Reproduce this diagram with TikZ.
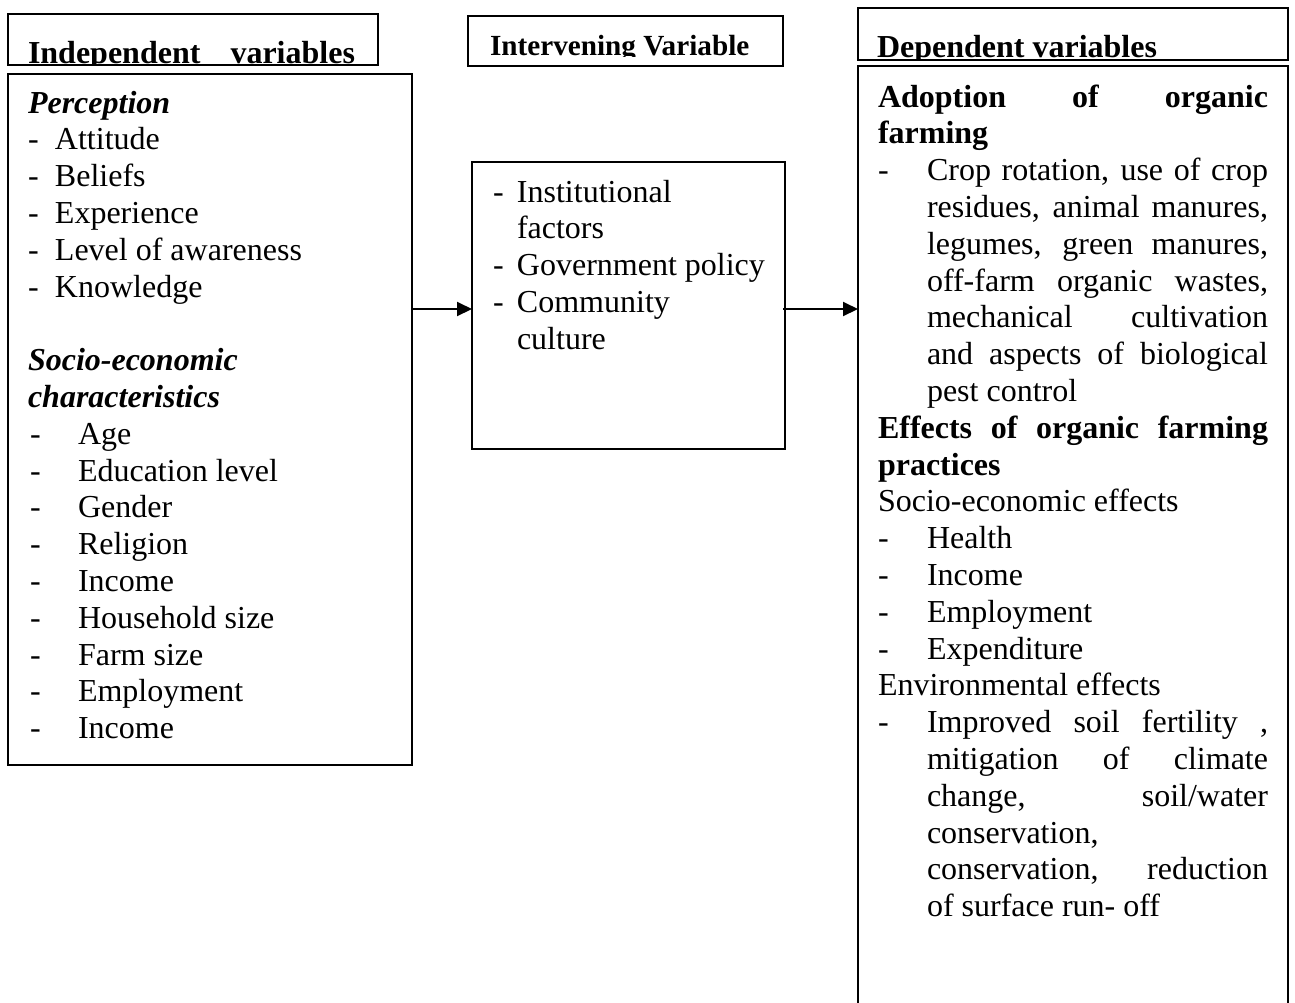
\documentclass[tikz,border=0pt]{standalone}
\usepackage{fontspec}
\setmainfont{Liberation Serif}
\usetikzlibrary{arrows.meta}
\tikzset{
  box/.style={draw, line width=1pt, rectangle, inner sep=0pt, outer sep=0pt, anchor=north west},
  txt/.style={anchor=base west, inner sep=0pt, outer sep=0pt},
  arr/.style={line width=1pt, -{Triangle[length=7.5pt,width=7pt]}}
}
\newcommand{\bodyfont}{\fontsize{16pt}{18.4pt}\selectfont}
\begin{document}
\begin{tikzpicture}[x=0.5pt,y=-0.5pt]
\useasboundingbox (0,0) rectangle (1295,1002);
% header boxes
\node[box, minimum width=185pt, minimum height=25.5pt] (h1) at (8,14) {};
\node[box, minimum width=157.5pt, minimum height=25pt] (h2) at (468,16) {};
\node[box, minimum width=215pt, minimum height=26pt] (h3) at (858,8) {};
\begin{scope}
\clip (9,15) rectangle (377,64);
\node[txt] (h1t) at (28,63) {\bodyfont\makebox[163.5pt][s]{\bfseries Independent variables}};
\end{scope}
\begin{scope}
\clip (469,17) rectangle (782,56);
\node[txt] (h2t) at (490,55) {\fontsize{14.6pt}{17pt}\selectfont\bfseries Intervening Variable};
\end{scope}
\begin{scope}
\clip (859,9) rectangle (1287,58);
\node[txt] (h3t) at (877,57) {\bodyfont\bfseries Dependent variables};
\end{scope}
% main boxes
\node[box, minimum width=202pt, minimum height=345.5pt] (ind) at (8,74) {};
\node[box, minimum width=156.5pt, minimum height=143.5pt] (int) at (472,162) {};
\begin{scope}
\clip (0,0) rectangle (1295,1002);
\node[box, minimum width=215pt, minimum height=476pt] (dep) at (858,66) {};
\end{scope}
% texts
\node[txt] (indtext) at (28,113) {\begin{minipage}[t]{195pt}\bodyfont
\textbf{\textit{Perception}}\\
\makebox[13.5pt][l]{-}Attitude\\
\makebox[13.5pt][l]{-}Beliefs\\
\makebox[13.5pt][l]{-}Experience\\
\makebox[13.5pt][l]{-}Level of awareness\\
\makebox[13.5pt][l]{-}Knowledge\\
\mbox{}\\
\textbf{\textit{Socio-economic}}\\
\textbf{\textit{characteristics}}\\
\hspace*{1pt}\makebox[24pt][l]{-}Age\\
\hspace*{1pt}\makebox[24pt][l]{-}Education level\\
\hspace*{1pt}\makebox[24pt][l]{-}Gender\\
\hspace*{1pt}\makebox[24pt][l]{-}Religion\\
\hspace*{1pt}\makebox[24pt][l]{-}Income\\
\hspace*{1pt}\makebox[24pt][l]{-}Household size\\
\hspace*{1pt}\makebox[24pt][l]{-}Farm size\\
\hspace*{1pt}\makebox[24pt][l]{-}Employment\\
\hspace*{1pt}\makebox[24pt][l]{-}Income
\end{minipage}};
\node[txt] (inttext) at (493,202) {\begin{minipage}[t]{150pt}\bodyfont
\makebox[12pt][l]{-}Institutional\\
\hspace*{12pt}factors\\
\makebox[12pt][l]{-}Government policy\\
\makebox[12pt][l]{-}Community\\
\hspace*{12pt}culture
\end{minipage}};
\node[txt] (deptext) at (878,107) {\begin{minipage}[t]{200pt}\bodyfont
\makebox[195pt][s]{\bfseries Adoption of organic}\\
\textbf{farming}\\
\makebox[24.5pt][l]{-}\makebox[170.5pt][s]{Crop rotation, use of crop}\\
\hspace*{24.5pt}\makebox[170.5pt][s]{residues, animal manures,}\\
\hspace*{24.5pt}\makebox[170.5pt][s]{legumes, green manures,}\\
\hspace*{24.5pt}\makebox[170.5pt][s]{off-farm organic wastes,}\\
\hspace*{24.5pt}\makebox[170.5pt][s]{mechanical cultivation}\\
\hspace*{24.5pt}\makebox[170.5pt][s]{and aspects of biological}\\
\hspace*{24.5pt}pest control\\
\makebox[195pt][s]{\bfseries Effects of organic farming}\\
\textbf{practices}\\
Socio-economic effects\\
\makebox[24.5pt][l]{-}Health\\
\makebox[24.5pt][l]{-}Income\\
\makebox[24.5pt][l]{-}Employment\\
\makebox[24.5pt][l]{-}Expenditure\\
Environmental effects\\
\makebox[24.5pt][l]{-}\makebox[170.5pt][s]{Improved soil fertility ,}\\
\hspace*{24.5pt}\makebox[170.5pt][s]{mitigation of climate}\\
\hspace*{24.5pt}\makebox[170.5pt][s]{change, soil/water}\\
\hspace*{24.5pt}conservation,\\
\hspace*{24.5pt}\makebox[170.5pt][s]{conservation, reduction}\\
\hspace*{24.5pt}of surface run- off
\end{minipage}};
% arrows
\coordinate (ay) at (0,309);
\draw[arr] (ind.east |- ay) -- (int.west |- ay);
\draw[arr] ([xshift=-1pt]int.east |- ay) -- (dep.west |- ay);
\end{tikzpicture}
\end{document}
